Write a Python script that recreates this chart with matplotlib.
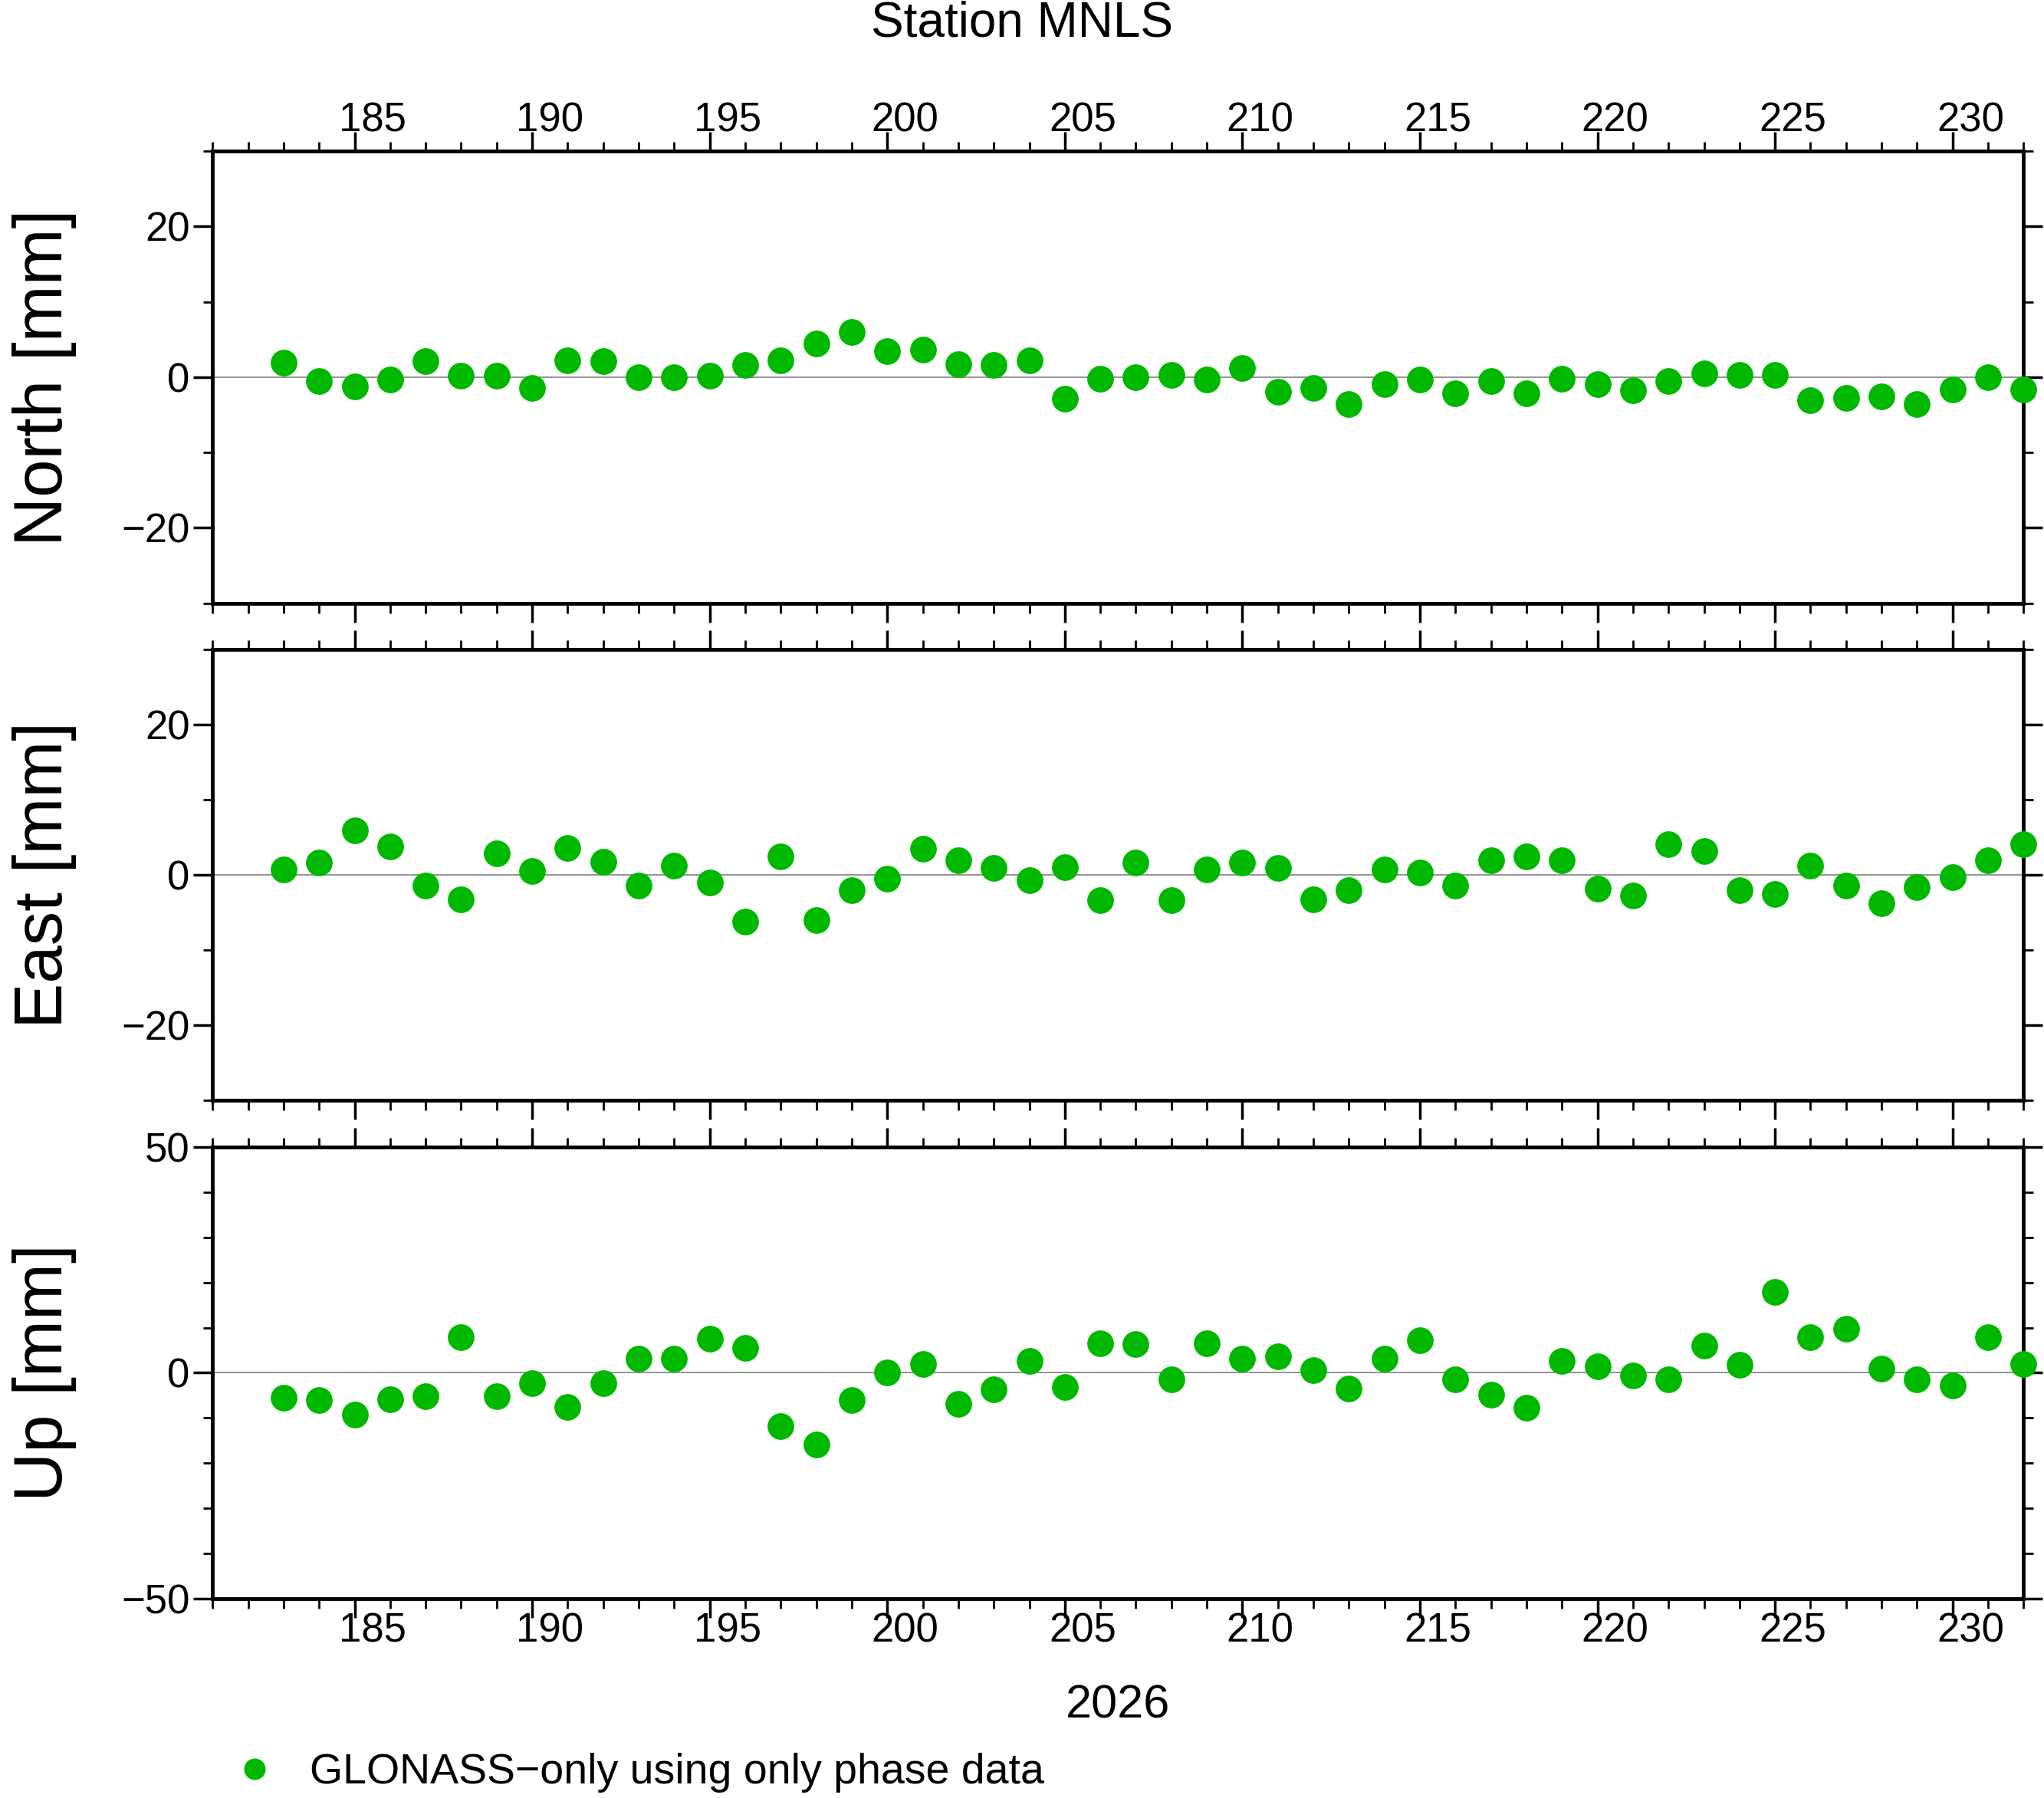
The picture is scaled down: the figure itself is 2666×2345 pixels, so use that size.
import matplotlib
matplotlib.use("Agg")
import matplotlib.pyplot as plt
from matplotlib.ticker import MultipleLocator
import numpy as np

plt.rcParams['font.family'] = ['Liberation Sans', 'DejaVu Sans']

days = list(range(183, 233))
north = [1.9,-0.5,-1.2,-0.3,2.1,0.2,0.2,-1.4,2.2,2.1,0,0,0.2,1.6,2.2,4.5,6.0,3.4,3.6,1.7,
         1.6,2.2,-2.9,-0.2,0,0.3,-0.3,1.2,-1.9,-1.4,-3.6,-0.9,-0.3,-2.2,-0.5,-2.2,-0.2,-0.9,-1.7,-0.5,
         0.5,0.3,0.3,-3.1,-2.8,-2.6,-3.6,-1.6,0,-1.6]
east = [0.7,1.6,5.9,3.8,-1.4,-3.3,2.8,0.5,3.6,1.7,-1.4,1.2,-1.0,-6.2,2.4,-6.0,-2.1,-0.5,3.4,1.9,
        0.9,-0.7,1.0,-3.4,1.6,-3.4,0.7,1.6,0.9,-3.3,-2.1,0.7,0.3,-1.4,1.9,2.4,1.9,-1.9,-2.8,4.1,
        3.1,-2.1,-2.6,1.2,-1.4,-3.8,-1.6,-0.3,1.9,4.1]
up = [-5.5,-6.1,-9.2,-5.8,-5.2,7.8,-5.2,-2.3,-7.5,-2.3,3.2,3.2,7.5,5.5,-11.8,-15.9,-6.1,0,2.0,-6.9,
      -3.7,2.6,-3.2,6.6,6.3,-1.4,6.6,3.2,3.7,0.6,-3.5,3.2,7.2,-1.4,-4.9,-7.8,2.6,1.4,-0.6,-1.4,
      6.1,1.7,17.9,7.8,9.8,0.9,-1.4,-2.9,7.8,2.0]
xticks = [185, 190, 195, 200, 205, 210, 215, 220, 225, 230]
green = '#00b800'

fig = plt.figure(figsize=(26.66, 23.45), dpi=100)
L, R = 0.104, 0.990
panels = [(0.6645, 0.916, north, 'North [mm]', 30, [-20, 0, 20]),
          (0.388, 0.639, east, 'East [mm]', 30, [-20, 0, 20]),
          (0.111, 0.362, up, 'Up [mm]', 50, [-50, 0, 50])]
axes = []
for i, (b, t, vals, lab, lim, yt) in enumerate(panels):
    ax = fig.add_axes([L, b, R - L, t - b])
    ax.axhline(0, color='#808080', lw=1.2, zorder=1)
    ax.plot(days, vals, 'o', color=green, ms=24, zorder=3, clip_on=False,
            label='GLONASS\u2212only using only phase data')
    ax.set_xlim(181, 232)
    ax.set_ylim(-lim, lim)
    ax.set_yticks(yt)
    ax.set_yticklabels([str(v).replace('-', '\u2212') for v in yt])
    ax.yaxis.set_minor_locator(MultipleLocator(10))
    ax.set_xticks(xticks)
    ax.set_xticklabels([])
    ax.xaxis.set_minor_locator(MultipleLocator(1))
    ax.tick_params(which='major', direction='out', length=18, width=2.5,
                   top=True, bottom=True, left=True, right=True, labelsize=38)
    ax.tick_params(which='minor', direction='out', length=9, width=2,
                   top=True, bottom=True, left=True, right=True)
    for s in ax.spines.values():
        s.set_linewidth(3.5)
    ax.set_ylabel(lab, fontsize=64, labelpad=25)
    ax.yaxis.set_label_coords(-0.075, 0.5)
    axes.append(ax)

# tick labels offset half a day (GMT style)
for d in xticks:
    axes[0].text(d + 0.5, 1.025, str(d), transform=axes[0].get_xaxis_transform(),
                 ha='center', va='bottom', fontsize=38)
    axes[2].text(d + 0.5, -0.03, str(d), transform=axes[2].get_xaxis_transform(),
                 ha='center', va='top', fontsize=38)

fig.text(0.547, 0.051, '2026', ha='center', va='center', fontsize=44)
fig.text(0.50, 0.987, 'Station MNLS', ha='center', va='center', fontsize=46)
fig.legend(handles=[axes[0].lines[-1]], loc='center left', bbox_to_anchor=(0.085, 0.014),
           frameon=False, fontsize=40, handletextpad=0.3, markerscale=0.8)

fig.savefig('out.png', dpi=100)
